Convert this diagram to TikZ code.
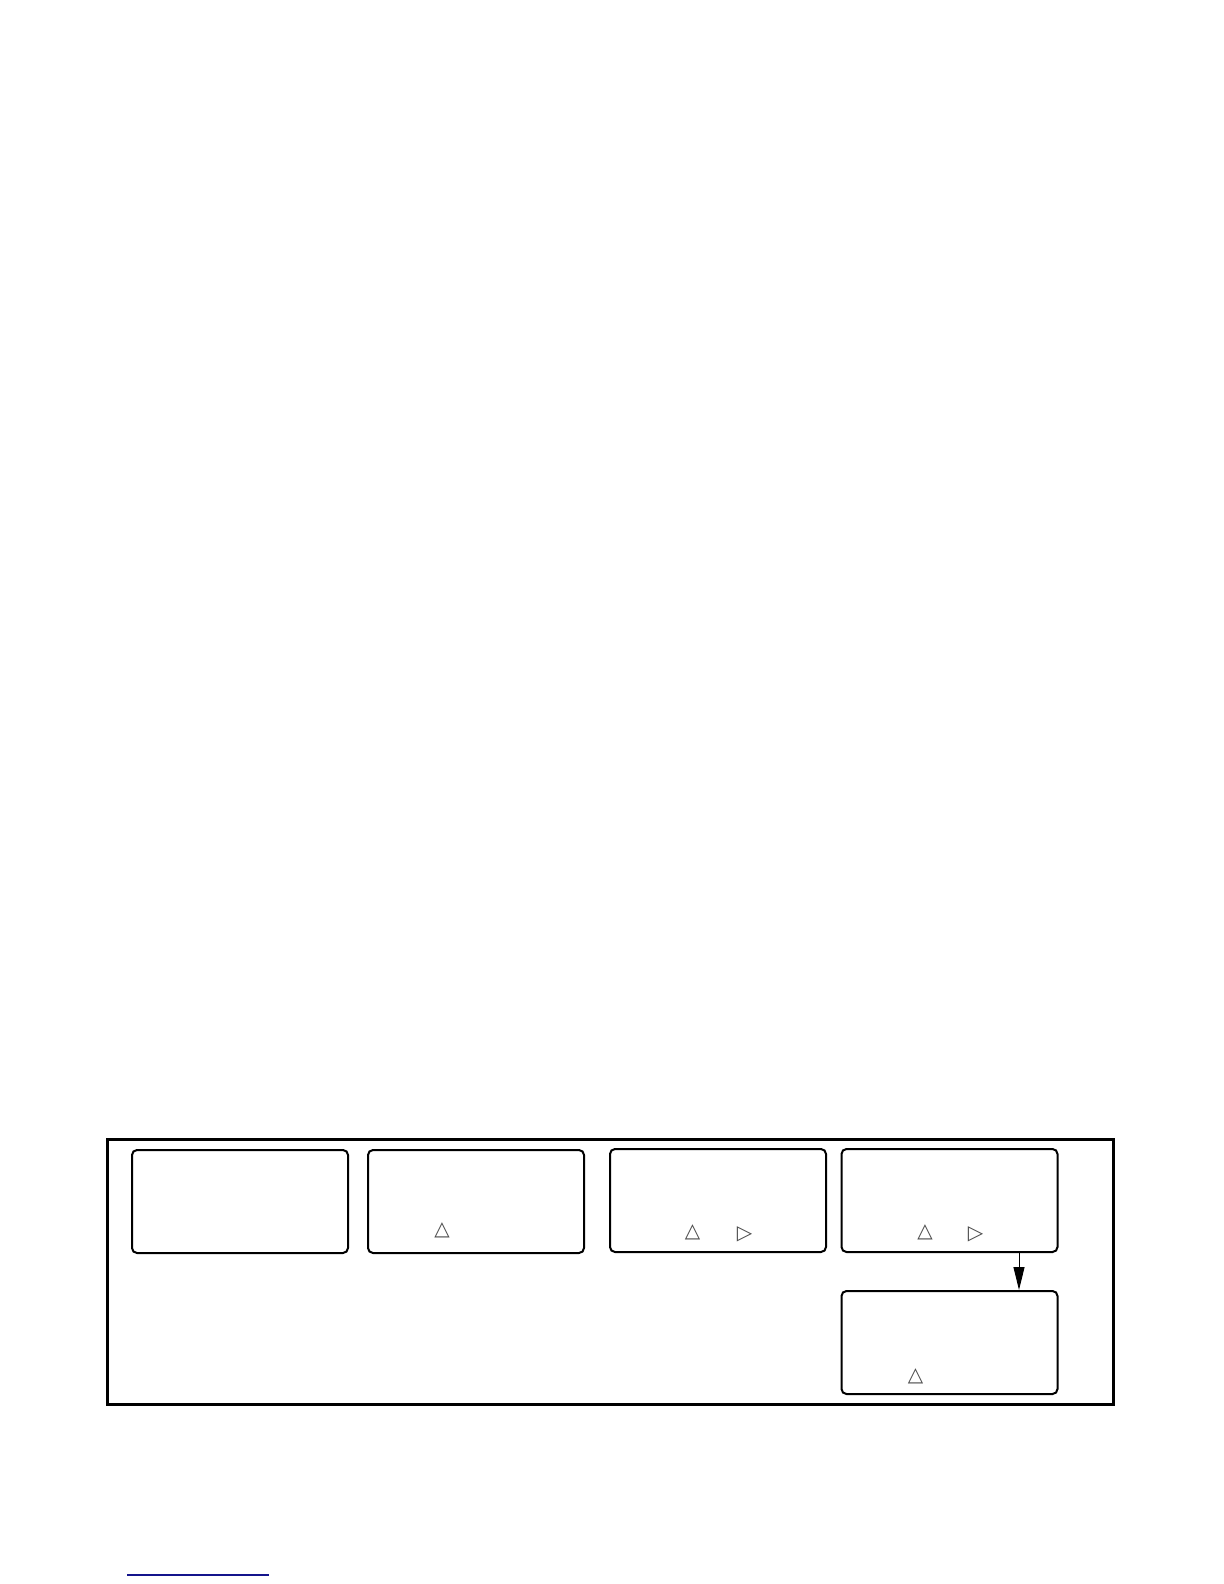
\documentclass[tikz,border=0pt]{standalone}
\usepackage{fontspec}
\usepackage{tikz}
\usetikzlibrary{arrows.meta}
\newfontfamily\symfont{DejaVu Sans}

\tikzset{
	screen/.style={draw, line width=1pt, rounded corners=2.5pt, minimum width=108pt, minimum height=51.5pt, inner sep=0pt},
	glyph/.style={inner sep=0pt, text=black!70, font=\symfont\fontsize{10}{10}\selectfont}
}

\begin{document}
\begin{tikzpicture}[x=1pt, y=1pt]
			%%%%% START %%%%%
			
			\useasboundingbox (0, 0) rectangle (612, -792);
			
			\draw[line width=1.5pt] (53.5, -569.5) rectangle (556.5, -702);
			
			\node[screen] (scrA) at (120, -600.75) {};
			\node[screen] (scrB) at (238, -600.75) {};
			\node[screen] (scrC) at (359, -600.25) {};
			\node[screen] (scrD) at (474.75, -600.25) {};
			\node[screen] (scrE) at (474.75, -671.25) {};
			
			\node[glyph] (upB) at (221, -615) {△};
			
			\node[glyph] (upC) at (346.25, -616) {△};
			\node[glyph] (rtC) at (372.25, -617.25) {▷};
			
			\node[glyph] (upD) at (462.5, -616) {△};
			\node[glyph] (rtD) at (487.75, -617.25) {▷};
			
			\node[glyph] (upE) at (457.75, -688.25) {△};
			
			\draw[line width=0.5pt, -{Triangle[length=11.5pt, width=5.5pt]}] (scrD.south -| 509.5, 0) -- (scrE.north -| 509.5, 0);
			
			\draw[line width=0.7pt, color={rgb,255:red,20;green,20;blue,140}] (63.5, -787.5) -- (134.5, -787.5);
			
			%%%%% END %%%%%
\end{tikzpicture}
\end{document}
